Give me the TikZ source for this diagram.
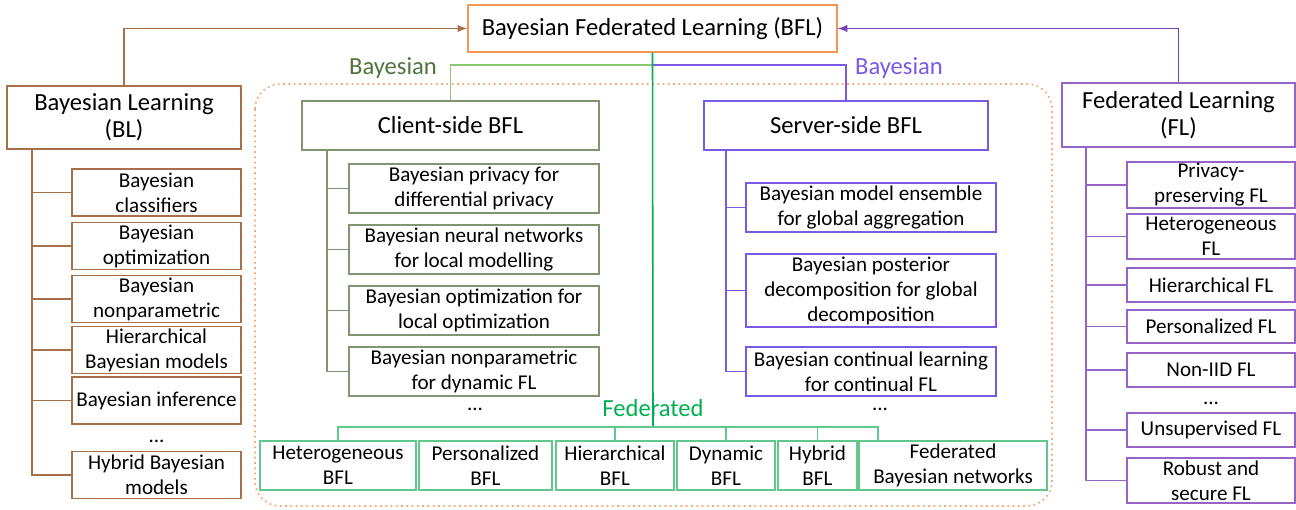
\documentclass[tikz,border=0pt]{standalone}
\usepackage{fontspec}
\setmainfont{Carlito}
\definecolor{blbrown}{RGB}{168,112,72}
\definecolor{bflorange}{RGB}{244,150,84}
\definecolor{flpurple}{RGB}{150,100,200}
\definecolor{arrowpurple}{RGB}{120,60,180}
\definecolor{srvpurple}{RGB}{120,90,230}
\definecolor{clgreen}{RGB}{128,150,112}
\definecolor{cllabel}{RGB}{80,115,60}
\definecolor{cllight}{RGB}{140,200,110}
\definecolor{fedgreen}{RGB}{0,176,80}
\definecolor{fedbox}{RGB}{96,200,140}
\definecolor{dotorange}{RGB}{248,170,120}
\begin{document}
\begin{tikzpicture}[x=0.02cm,y=-0.02cm,
	box/.style={draw,rectangle,align=center,inner sep=0pt,line width=0.8pt,
		font=\fontsize{12}{14.2}\selectfont},
	head/.style={box,font=\fontsize{14}{15.5}\selectfont},
	lbl/.style={font=\fontsize{14}{16}\selectfont},
	dots/.style={inner sep=0pt,font=\fontsize{12}{14}\selectfont},
	blbox/.style={box,draw=blbrown,minimum width=3.38cm,minimum height=0.94cm},
	flbox/.style={box,draw=flpurple,minimum width=3.36cm},
	clbox/.style={box,draw=clgreen,minimum width=5cm,minimum height=0.98cm},
	srvbox/.style={box,draw=srvpurple,minimum width=5cm},
	fedbx/.style={box,draw=fedbox,minimum height=0.98cm},
	conn/.style={line width=0.9pt}]
	\useasboundingbox (0,0) rectangle (1296,510);
	% frame of the BFL part
	\draw[dotorange,dotted,line width=1pt,rounded corners=0.5cm] (255,84) rectangle (1052,506);

	% main boxes
	\node[head,draw=bflorange,minimum width=7.38cm,minimum height=0.94cm] (bfl) at (652.5,28.5) {Bayesian Federated Learning (BFL)};
	\node[head,draw=blbrown,minimum width=4.68cm,minimum height=1.26cm] (bl) at (124,117.5) {Bayesian Learning\\(BL)};
	\node[head,draw=flpurple,minimum width=4.66cm,minimum height=1.28cm] (fl) at (1178.5,115) {Federated Learning\\(FL)};
	\node[head,draw=clgreen,minimum width=5.94cm,minimum height=0.98cm] (client) at (450.5,125.5) {Client-side BFL};
	\node[head,draw=srvpurple,minimum width=5.68cm,minimum height=0.98cm] (server) at (846,125.5) {Server-side BFL};

	\draw[conn,blbrown,-latex] (bl.north) |- (bfl.west);
	\draw[conn,arrowpurple,-latex] (fl.north) |- (bfl.east);

	% Bayesian learning column
	\node[blbox] (bl1) at (156.5,192.5) {Bayesian\\classifiers};
	\node[blbox] (bl2) at (156.5,246) {Bayesian\\optimization};
	\node[blbox] (bl3) at (156.5,299) {Bayesian\\nonparametric};
	\node[blbox] (bl4) at (156.5,350) {Hierarchical\\Bayesian models};
	\node[blbox] (bl5) at (156.5,400.5) {Bayesian inference};
	\node[dots] (bldots) at (156.5,441) {...};
	\node[blbox] (bl6) at (156.5,475) {Hybrid Bayesian\\models};
	\coordinate (blroot) at (32,149);
	\foreach \c in {bl1,bl2,bl3,bl4,bl5,bl6}
		\draw[conn,blbrown] (blroot) |- (\c.west);

	% Federated learning column
	\node[flbox,minimum height=0.92cm] (fl1) at (1211,185) {Privacy-\\preserving FL};
	\node[flbox,minimum height=0.9cm] (fl2) at (1211,236.5) {Heterogeneous\\FL};
	\node[flbox,minimum height=0.68cm] (fl3) at (1211,285) {Hierarchical FL};
	\node[flbox,minimum height=0.66cm] (fl4) at (1211,326.5) {Personalized FL};
	\node[flbox,minimum height=0.68cm] (fl5) at (1211,370) {Non-IID FL};
	\node[dots] (fldots) at (1211,403) {...};
	\node[flbox,minimum height=0.68cm] (fl6) at (1211,430) {Unsupervised FL};
	\node[flbox,minimum height=0.9cm] (fl7) at (1211,480.5) {Robust and\\secure FL};
	\coordinate (flroot) at (1086,147);
	\foreach \c in {fl1,fl2,fl3,fl4,fl5,fl6,fl7}
		\draw[conn,flpurple] (flroot) |- (\c.west);

	% client side
	\node[clbox] (cl1) at (474,188.5) {Bayesian privacy for\\differential privacy};
	\node[clbox] (cl2) at (474,249.5) {Bayesian neural networks\\for local modelling};
	\node[clbox] (cl3) at (474,310.5) {Bayesian optimization for\\local optimization};
	\node[clbox] (cl4) at (474,371.5) {Bayesian nonparametric\\for dynamic FL};
	\node[dots] (cldots) at (475,409) {...};
	\coordinate (clroot) at (327,150);
	\foreach \c in {cl1,cl2,cl3,cl4}
		\draw[conn,clgreen] (clroot) |- (\c.west);

	% server side
	\node[srvbox,minimum height=0.98cm] (sv1) at (871,207.5) {Bayesian model ensemble\\for global aggregation};
	\node[srvbox,minimum height=1.46cm] (sv2) at (871,290.5) {Bayesian posterior\\decomposition for global\\decomposition};
	\node[srvbox,minimum height=0.98cm] (sv3) at (871,371.5) {Bayesian continual learning\\for continual FL};
	\node[dots] (svdots) at (880,409) {...};
	\coordinate (svroot) at (726,150);
	\foreach \c in {sv1,sv2,sv3}
		\draw[conn,srvpurple] (svroot) |- (\c.west);

	% links into client and server side
	\coordinate (bay) at (653,65);
	\draw[conn,cllight] (client.north) |- (bay);
	\draw[conn,srvpurple] (server.north) |- (bay);
	\node[lbl,text=cllabel] (baylabl) at (393,68) {Bayesian};
	\node[lbl,text=srvpurple] (baylabr) at (899,68) {Bayesian};

	% federated row
	\node[fedbx,minimum width=3.12cm] (het) at (338,465.5) {Heterogeneous\\BFL};
	\node[fedbx,minimum width=2.66cm] (per) at (485.5,465.5) {Personalized\\BFL};
	\node[fedbx,minimum width=2.36cm] (hie) at (615,465.5) {Hierarchical\\BFL};
	\node[fedbx,minimum width=1.96cm] (dyn) at (726,465.5) {Dynamic\\BFL};
	\node[fedbx,minimum width=1.58cm] (hyb) at (817.5,465.5) {Hybrid\\BFL};
	\node[fedbx,minimum width=3.76cm] (fbn) at (953,465.5) {Federated\\Bayesian networks};
	\node[lbl,text=fedgreen] (fedlab) at (653,408) {Federated};
	\coordinate (fbus) at (653,427);
	\coordinate (fbnin) at (878,441);
	\draw[conn,fedgreen] (bfl.south) -- (fbus);
	\draw[conn,fedbox] (het.north) -- (het.north |- fbus) -- (fbus -| fbnin) -- (fbnin);
	\foreach \c in {hie,dyn,hyb}
		\draw[conn,fedbox] (\c.north) -- (\c.north |- fbus);
\end{tikzpicture}
\end{document}
